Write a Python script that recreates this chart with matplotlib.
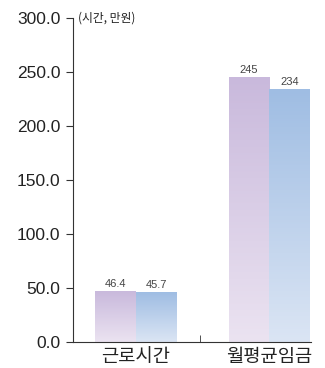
import numpy as np
import matplotlib.pyplot as plt
from matplotlib.colors import LinearSegmentedColormap

plt.rcParams['font.family'] = ['Noto Sans CJK KR', 'DejaVu Sans']

categories = ['근로시간', '월평균임금']
series_a = [46.4, 245]
series_b = [45.7, 234]
labels_a = ['46.4', '245']
labels_b = ['45.7', '234']
yticks = [0, 50, 100, 150, 200, 250, 300]

# gradient colours: top -> bottom
cmap_a = LinearSegmentedColormap.from_list('a', ['#ebe3f1', '#c9b9dc'])
cmap_b = LinearSegmentedColormap.from_list('b', ['#dbe5f4', '#9fbde3'])

fig = plt.figure(figsize=(3.25, 3.68), dpi=100)
ax = fig.add_axes([0.2246, 0.0707, 0.732, 0.880])

width = 0.305
x = np.arange(len(categories))
grad = np.linspace(0, 1, 256).reshape(-1, 1)

def gbar(xc, h, cmap):
    ax.imshow(grad, extent=(xc, xc + width, 0, h), origin='lower',
              cmap=cmap, aspect='auto', zorder=2)

num_font = ['Liberation Sans', 'DejaVu Sans']
for i in range(len(categories)):
    gbar(x[i] - width, series_a[i], cmap_a)
    gbar(x[i], series_b[i], cmap_b)
    ax.text(x[i] - width / 2, series_a[i] + 2.5, labels_a[i], ha='center',
            va='bottom', fontsize=8, color='#444444', family=num_font)
    ax.text(x[i] + width / 2, series_b[i] + 2.5, labels_b[i], ha='center',
            va='bottom', fontsize=8, color='#444444', family=num_font)

ax.set_xlim(-0.47, 1.31)
ax.set_ylim(0, 300)
ax.set_yticks(yticks)
ax.set_yticklabels([f'{v:.1f}' for v in yticks], fontsize=12.5, color='#222222',
                   family=num_font)
ax.set_xticks(x)
ax.set_xticklabels(categories, fontsize=13.5, color='#222222')
ax.tick_params(axis='x', length=0, pad=3)
ax.set_xticks([0.48], minor=True)
ax.tick_params(axis='x', which='minor', direction='in', length=5, color='#333333')
ax.tick_params(axis='y', length=5, color='#333333', pad=4)

for s in ['top', 'right']:
    ax.spines[s].set_visible(False)
for s in ['left', 'bottom']:
    ax.spines[s].set_color('#333333')
    ax.spines[s].set_linewidth(0.8)

ax.text(0.02, 1.0, '(시간, 만원)', transform=ax.transAxes, fontsize=8.5,
        color='#222222', ha='left', va='center')

fig.savefig('out.png', dpi=100)
